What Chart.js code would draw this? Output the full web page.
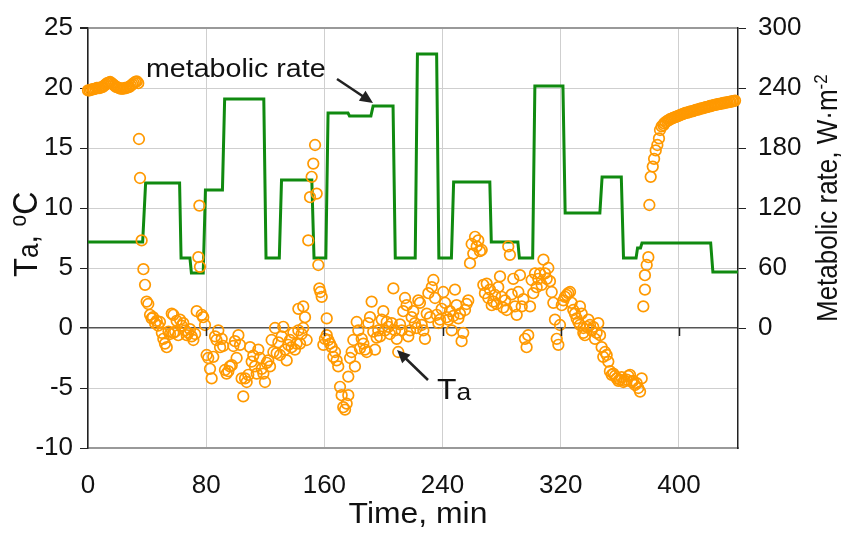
<!DOCTYPE html>
<html>
<head>
<meta charset="utf-8">
<script src="https://cdn.jsdelivr.net/npm/chart.js@4"></script>
<style>
  body { margin: 0; background: #fff; }
  #wrap { width: 846px; height: 533px; }
</style>
</head>
<body>
<div id="wrap"><canvas id="chart" width="846" height="533"></canvas></div>
<script>
// metabolic rate (W/m2, right axis) - step trace, start/end of each level
const rateTime = [0, 37, 39, 62, 63, 69, 70, 78, 79.5, 91,
  92.5, 119, 120.5, 129.5, 131, 151.5, 153, 161, 162.5, 176,
  177, 191.5, 193, 206.5, 208, 221.5, 223, 236, 237.5, 246,
  247.5, 272, 273, 291, 292, 301, 302.5, 321.5, 323, 346.5,
  348, 361, 362.5, 371, 372, 374, 375, 421.5, 423, 440];
const rateValue = [86, 86, 145, 145, 70, 70, 55, 55, 138, 138,
  229, 229, 70, 70, 148, 148, 70, 70, 215, 215,
  212, 212, 222, 222, 70, 70, 274, 274, 70, 70,
  146, 146, 86, 86, 70, 70, 242, 242, 115, 115,
  151, 151, 70, 70, 80, 80, 85, 85, 56, 56];

// air temperature Ta (C, left axis)
const taTime = [
  0, 1, 2, 3, 4, 5, 6, 7, 8, 9,
  10, 11, 12, 13, 14, 15, 16, 17, 18, 19,
  20, 21, 22, 23, 24, 25, 26, 27, 28, 29,
  30, 31, 32, 33, 34,
  34.5, 35.2, 36.3, 37.5, 38.6, 39.7, 40.8, 42, 43.1, 44,
  45.4, 46.5, 47.5, 48.7, 50, 51, 52.1, 53.3, 54.5, 55.5,
  56.7, 57.8, 57.8, 59, 60, 61.1, 62.3, 63.4, 64.5, 65.7,
  66.8, 67.9, 69, 70.2, 71.3, 72.5, 73.6, 74.7, 75.4, 75.8,
  77, 78, 79.2, 80.3, 81.4, 82.6, 83.7, 84.8, 86, 87,
  88.2, 89.4, 90.5, 91.5, 92.7, 93.8, 95, 96.1, 97.3, 98.4,
  99.5, 100.6, 101.8, 102.9, 104, 105.1, 106.3, 107.4, 108.5, 109.7,
  110.8, 111.9, 113, 114.2, 115.3, 116.4, 117.6, 118.7, 119.8, 121,
  122, 123.2, 124.3, 125.5, 126.6, 127.7, 128.9, 130, 131.1, 132.2,
  133.4, 134.5, 135.6, 136.7, 137.8, 139, 140.1, 141.2, 142.4, 142.4,
  143.5, 144.6, 145.7, 145.7, 146.9, 148, 149.1, 150.3, 151.4, 152.5,
  153.7, 154.8, 155.9, 156.6, 157.3, 158.2, 159.3, 160.4, 161.6, 161.6,
  162.7, 163.8, 165, 166.1, 167.2, 168.3, 169.4, 170.6, 171.7, 172.8,
  174, 175.1, 176.2, 176.2, 177.4, 178.5, 179.6, 180.7, 181.9, 183,
  184.1, 185.3, 186.4, 187.5, 188.7, 189.8, 190.9, 192, 193.1, 194.3,
  195.4, 196.5, 197.7, 198.8, 199.9, 201, 202.2, 203.3, 204.4, 205.6,
  206.7, 207.8, 209, 210, 211.2, 212.3, 213.4, 214.6, 215.7, 216.8,
  218, 219.1, 220.2, 221.3, 222.5, 223.6, 224.7, 225.9, 227, 228.1,
  229.3, 230.4, 231.5, 232.7, 233.8, 234.9, 236, 237.2, 238.3, 239.4,
  240.5, 241.7, 242.8, 243.9, 245, 246.2, 247.3, 248.4, 249.5, 250.7,
  251.8, 252.9, 254, 255.2, 256.3, 257.4, 258.6, 259.7, 260.8, 262,
  263.1, 264.2, 265.3, 266.5, 267.6, 268.7, 269.9, 271, 272.1, 273.3,
  274.4, 275.5, 276.6, 277.7, 278.9, 280, 281.1, 282.3, 283.4, 284.5,
  285.6, 286.8, 287.9, 289, 290.2, 291.3, 292.4, 293.6, 294.7, 295.8,
  296.9, 298, 299.2, 300.3, 301.4, 302.6, 303.7, 304.8, 306, 307.1,
  308.3, 309.4, 310.5, 311.6, 312.7, 313.9, 315, 316.1, 317.3, 318.4,
  319.5, 320.7, 321.8, 322.9, 324, 325.1, 326.3, 327.4, 328.5, 329.6,
  330.8, 331.9, 333, 333, 334.2, 335.3, 335.3, 336.4, 337.6, 338.7,
  339.8, 340.9, 342, 343.2, 344.3, 345.4, 346.6, 347.7, 348.8, 350,
  351.1, 352.2, 353.3, 354.5, 355.6, 356.7, 357.9, 359, 360.1, 361.2,
  362.4, 363.5, 364.7, 365.8, 366.9, 368, 369.1, 370.3, 371.4, 372.5,
  373.7, 374.8, 375.9, 377, 377, 378.2, 379.3, 380, 380.9, 382.3,
  383.2, 384.3, 385.4, 386.5, 387.2, 388.3, 389.5,
  390, 391, 392, 393, 394, 395, 396, 397, 398, 399,
  400, 401, 402, 403, 404, 405, 406, 407, 408, 409,
  410, 411, 412, 413, 414, 415, 416, 417, 418, 419,
  420, 421, 422, 423, 424, 425, 426, 427, 428, 429,
  430, 431, 432, 433, 434, 435, 436, 437, 438
];
const taValue = [
  19.8, 19.8, 19.85, 19.9, 19.9, 19.95, 20, 20, 20, 20.05,
  20.1, 20.2, 20.3, 20.4, 20.45, 20.5, 20.4, 20.3, 20.2, 20.1,
  20.05, 20, 19.95, 19.95, 19.95, 20, 20, 20.05, 20.1, 20.2,
  20.3, 20.4, 20.5, 20.55, 20.4,
  15.75, 12.5, 7.3, 4.9, 3.6, 2.2, 2.0, 1.1, 0.8, 0.9,
  0.4, 0.6, 0.2, 0.5, -0.4, -0.9, -1.3, -1.6, -0.3, -0.5,
  1.2, 1.1, -0.4, -0.3, 0.6, -0.6, 0.7, 0.2, 0.4, -0.2,
  -0.6, -0.4, -0.1, -0.7, -1, -0.5, 1.4, 5.9, 10.2, 5.1,
  1.1, 0.9, 0.25, -2.25, -2.5, -3.4, -4.2, -2.4, -0.7, -1.0,
  -0.2, -1.6, -0.9, -1.5, -3.5, -3.8, -3.6, -3.2, -3.1, -1.5,
  -1.1, -2.5, -0.6, -1.4, -4.2, -5.7, -4.2, -4.5, -3.9, -1.6,
  -2.8, -2.3, -3.2, -3.8, -1.8, -2.5, -3.4, -3.8, -4.5, -2.9,
  -2.7, -3.2, -1, -2, 0, -2.1, -1.2, -2.25, -0.7, 0.1,
  -1.8, -2.7, -1.4, -1, -1.6, -0.4, -1.8, -1.3, 1.6, -0.2,
  -1.3, -0.5, 1.8, 0, 0.9, -1, 7.3, 10.9, 12.6, 13.7,
  15.25, 11.2, 5.25, 3.3, 3.0, 2.6, -1.4, -0.9, 0.8, -0.6,
  -1.0, -1.3, -1.6, -2.4, -2.0, -2.7, -3.2, -4.9, -5.6, -6.6,
  -6.8, -6.3, -5.6, -4.05, -2.5, -2, -1.0, -3.2, 0.5, -0.2,
  -1.7, -0.9, -1.3, -1.8, -2, 0.4, 0.9, 2.2, -0.3, -1.8,
  -0.8, -0.2, -0.7, 0.7, 1.4, -0.2, 0.5, 0.1, -0.5, 0.4,
  3.3, -0.2, -0.9, -2, 0.3, -0.2, 1.4, 2.5, 1.9, -0.7,
  -0.2, 0.9, 1.4, 0.4, 0, 2.3, 2.1, 0.25, -0.2, -0.9,
  1.2, 2.9, 0.9, 3.4, 4, 2.5, 1.1, 0.4, 0.7, 1.6,
  3, 2.1, 0.9, 0.7, 1.4, -0.2, 1.0, 3.2, 1.9, 0.8,
  1.2, -1.1, -0.4, 1.5, 2.0, 2.3, 5.4, 7.0, 6.2, 7.6,
  6.8, 7.3, 6.4, 6.5, 3.6, 2.9, 3.7, 2.5, 3.2, 1.9,
  2.2, 2.75, 2.0, 3.4, 4.3, 2.6, 1.7, 2.3, 1.5, 6.8,
  6.1, 2.8, 4.1, 1.8, 1.1, 3, 4.4, 1.8, 2.4, -0.9,
  -1.6, -0.6, 1.8, 4, 2.9, 4.55, 3.4, 4.1, 4.55, 3.6,
  5.7, 4.55, 4.1, 5, 3.9, 3.0, 2.1, 0.7, -0.9, -1.4,
  0.25, 1.9, 2.3, 2.6, 2.75, 2.9, 3, 2.1, 1.5, 1.2,
  0.8, 0.5, 1.8, 0.25, 1.2, 0, -0.4, -0.6, 0.1, 0.7,
  0.25, -0.2, 0.1, -0.9, -0.4, 0.4, -0.6, -1.6, -2.4, -2.0,
  -2.25, -2.8, -3.6, -3.9, -3.8, -4.0, -4.2, -4.4, -4.3, -4.1,
  -4.5, -4.4, -4.3, -4.0, -3.9, -4.5, -4.4, -4.75, -4.6, -5,
  -5.3, -4.2, 1.8, 3.2, 4.4, 5.25, 5.9, 10.25, 12.6, 13.45,
  14.1, 14.8, 15.25, 15.8, 16.5, 16.8, 16.9,
  17.05, 17.15, 17.25, 17.3, 17.4, 17.45, 17.5, 17.55, 17.6, 17.65,
  17.7, 17.75, 17.8, 17.85, 17.9, 17.95, 17.95, 18.0, 18.05, 18.05,
  18.1, 18.15, 18.2, 18.2, 18.25, 18.3, 18.3, 18.35, 18.4, 18.4,
  18.45, 18.5, 18.5, 18.55, 18.6, 18.6, 18.65, 18.65, 18.7, 18.7,
  18.75, 18.75, 18.8, 18.8, 18.85, 18.85, 18.9, 18.9, 18.95
];

const timeTicks = [0, 80, 160, 240, 320, 400];

const FONT = '"Liberation Sans", Arial, Helvetica, sans-serif';
const SX = 1.1; // text in the picture is a bit wide

// draw a run of text pieces (for sub/superscripts), optionally rotated
function drawParts(ctx, parts, x, y, angle, center) {
  ctx.save();
  ctx.translate(x, y);
  ctx.scale(SX, 1);
  ctx.rotate(angle);
  ctx.textAlign = "left";
  ctx.textBaseline = "alphabetic";
  ctx.fillStyle = "#111";
  let total = 0;
  parts.forEach((p) => {
    ctx.font = p.size + "px " + FONT;
    total += ctx.measureText(p.text).width;
  });
  let cx = center ? -total / 2 : 0;
  parts.forEach((p) => {
    ctx.font = p.size + "px " + FONT;
    ctx.fillText(p.text, cx, p.dy || 0);
    cx += ctx.measureText(p.text).width;
  });
  ctx.restore();
}

function arrow(ctx, x1, y1, x2, y2) {
  const a = Math.atan2(y2 - y1, x2 - x1);
  const len = 13, w = 6;
  ctx.save();
  ctx.strokeStyle = "#222";
  ctx.fillStyle = "#222";
  ctx.lineWidth = 2.5;
  ctx.beginPath();
  ctx.moveTo(x1, y1);
  ctx.lineTo(x2 - Math.cos(a) * len * 0.8, y2 - Math.sin(a) * len * 0.8);
  ctx.stroke();
  ctx.beginPath();
  ctx.moveTo(x2, y2);
  ctx.lineTo(x2 - Math.cos(a) * len - Math.sin(a) * w, y2 - Math.sin(a) * len + Math.cos(a) * w);
  ctx.lineTo(x2 - Math.cos(a) * len + Math.sin(a) * w, y2 - Math.sin(a) * len - Math.cos(a) * w);
  ctx.closePath();
  ctx.fill();
  ctx.restore();
}

const decor = {
  id: "decor",
  afterDraw(chart) {
    const ctx = chart.ctx;
    const xs = chart.scales.x, ys = chart.scales.y;
    const y0 = ys.getPixelForValue(0);

    // small ticks on the zero line
    ctx.save();
    ctx.strokeStyle = "#222";
    ctx.lineWidth = 1.5;
    timeTicks.slice(1).forEach((t) => {
      const px = Math.round(xs.getPixelForValue(t)) + 0.5;
      ctx.beginPath();
      ctx.moveTo(px, y0);
      ctx.lineTo(px, y0 + 8);
      ctx.stroke();
    });
    ctx.restore();

    // axis titles
    drawParts(ctx, [{ text: "Time, min", size: 29 }], 418, 523, 0, true);
    drawParts(ctx, [
      { text: "T", size: 31 },
      { text: "a", size: 26, dy: 1 },
      { text: ", ", size: 31 },
      { text: "o", size: 21, dy: -10 },
      { text: "C", size: 32 },
    ], 37, 277, -Math.PI / 2);
    drawParts(ctx, [
      { text: "Metabolic rate, W\u00b7m", size: 26 },
      { text: "-2", size: 17, dy: -9 },
    ], 837, 322, -Math.PI / 2);

    // annotations
    drawParts(ctx, [{ text: "metabolic rate", size: 26 }], 146, 77, 0);
    arrow(ctx, 337, 79, 373, 103);
    drawParts(ctx, [
      { text: "T", size: 29 },
      { text: "a", size: 24, dy: 1 },
    ], 437, 399, 0);
    arrow(ctx, 428, 380, 397, 350);
  },
};

const ctx = document.getElementById("chart");

new Chart(ctx, {
  data: {
    datasets: [
      {
        type: "scatter",
        label: "Ta",
        data: taTime.map((t, i) => ({ x: t, y: taValue[i] })),
        yAxisID: "y",
        pointStyle: "circle",
        pointRadius: 5.3,
        pointBorderWidth: 1.7,
        borderColor: "#ff9900",
        backgroundColor: "rgba(255,255,255,0)",
        clip: false,
        order: 0,
      },
      {
        type: "line",
        label: "metabolic rate",
        data: rateTime.map((t, i) => ({ x: t, y: rateValue[i] })),
        yAxisID: "y2",
        borderColor: "#108a10",
        borderWidth: 3,
        pointRadius: 0,
        tension: 0,
        fill: false,
        order: 1,
      },
    ],
  },
  options: {
    responsive: false,
    animation: false,
    devicePixelRatio: 1,
    layout: { padding: { top: 28, left: 0, right: 0, bottom: 0 } },
    plugins: {
      legend: { display: false },
      tooltip: { enabled: false },
    },
    scales: {
      x: {
        type: "linear",
        min: 0,
        max: 440,
        afterFit: (s) => { s.height = 85; },
        afterBuildTicks: (s) => {
          s.ticks = timeTicks.map((v) => ({ value: v }));
        },
        ticks: { font: { family: FONT, size: 26 }, color: "#111", padding: 22, maxRotation: 0 },
        grid: { color: "#cfcfcf", lineWidth: 1, drawTicks: false },
        border: { color: "#999", width: 2 },
      },
      y: {
        position: "left",
        min: -10,
        max: 25,
        afterFit: (s) => { s.width = 88; },
        ticks: { stepSize: 5, font: { family: FONT, size: 26 }, color: "#111", padding: 7 },
        grid: {
          color: (c) => (c.tick.value === 0 ? "#555" : c.tick.value === 25 ? "#999" : "#cfcfcf"),
          lineWidth: (c) => (c.tick.value === 25 ? 2 : c.tick.value === 0 ? 1.5 : 1),
          tickLength: 8,
          tickColor: "#222",
        },
        border: { color: "#222", width: 1.5 },
      },
      y2: {
        position: "right",
        min: -120,
        max: 300,
        afterFit: (s) => { s.width = 108; },
        afterBuildTicks: (s) => {
          s.ticks = s.ticks.filter((t) => t.value >= 0);
        },
        ticks: { stepSize: 60, font: { family: FONT, size: 26 }, color: "#111", padding: 12 },
        grid: { drawOnChartArea: false, tickLength: 8, tickColor: "#222" },
        border: { color: "#222", width: 1.5 },
      },
    },
  },
  plugins: [decor],
});
</script>
</body>
</html>
